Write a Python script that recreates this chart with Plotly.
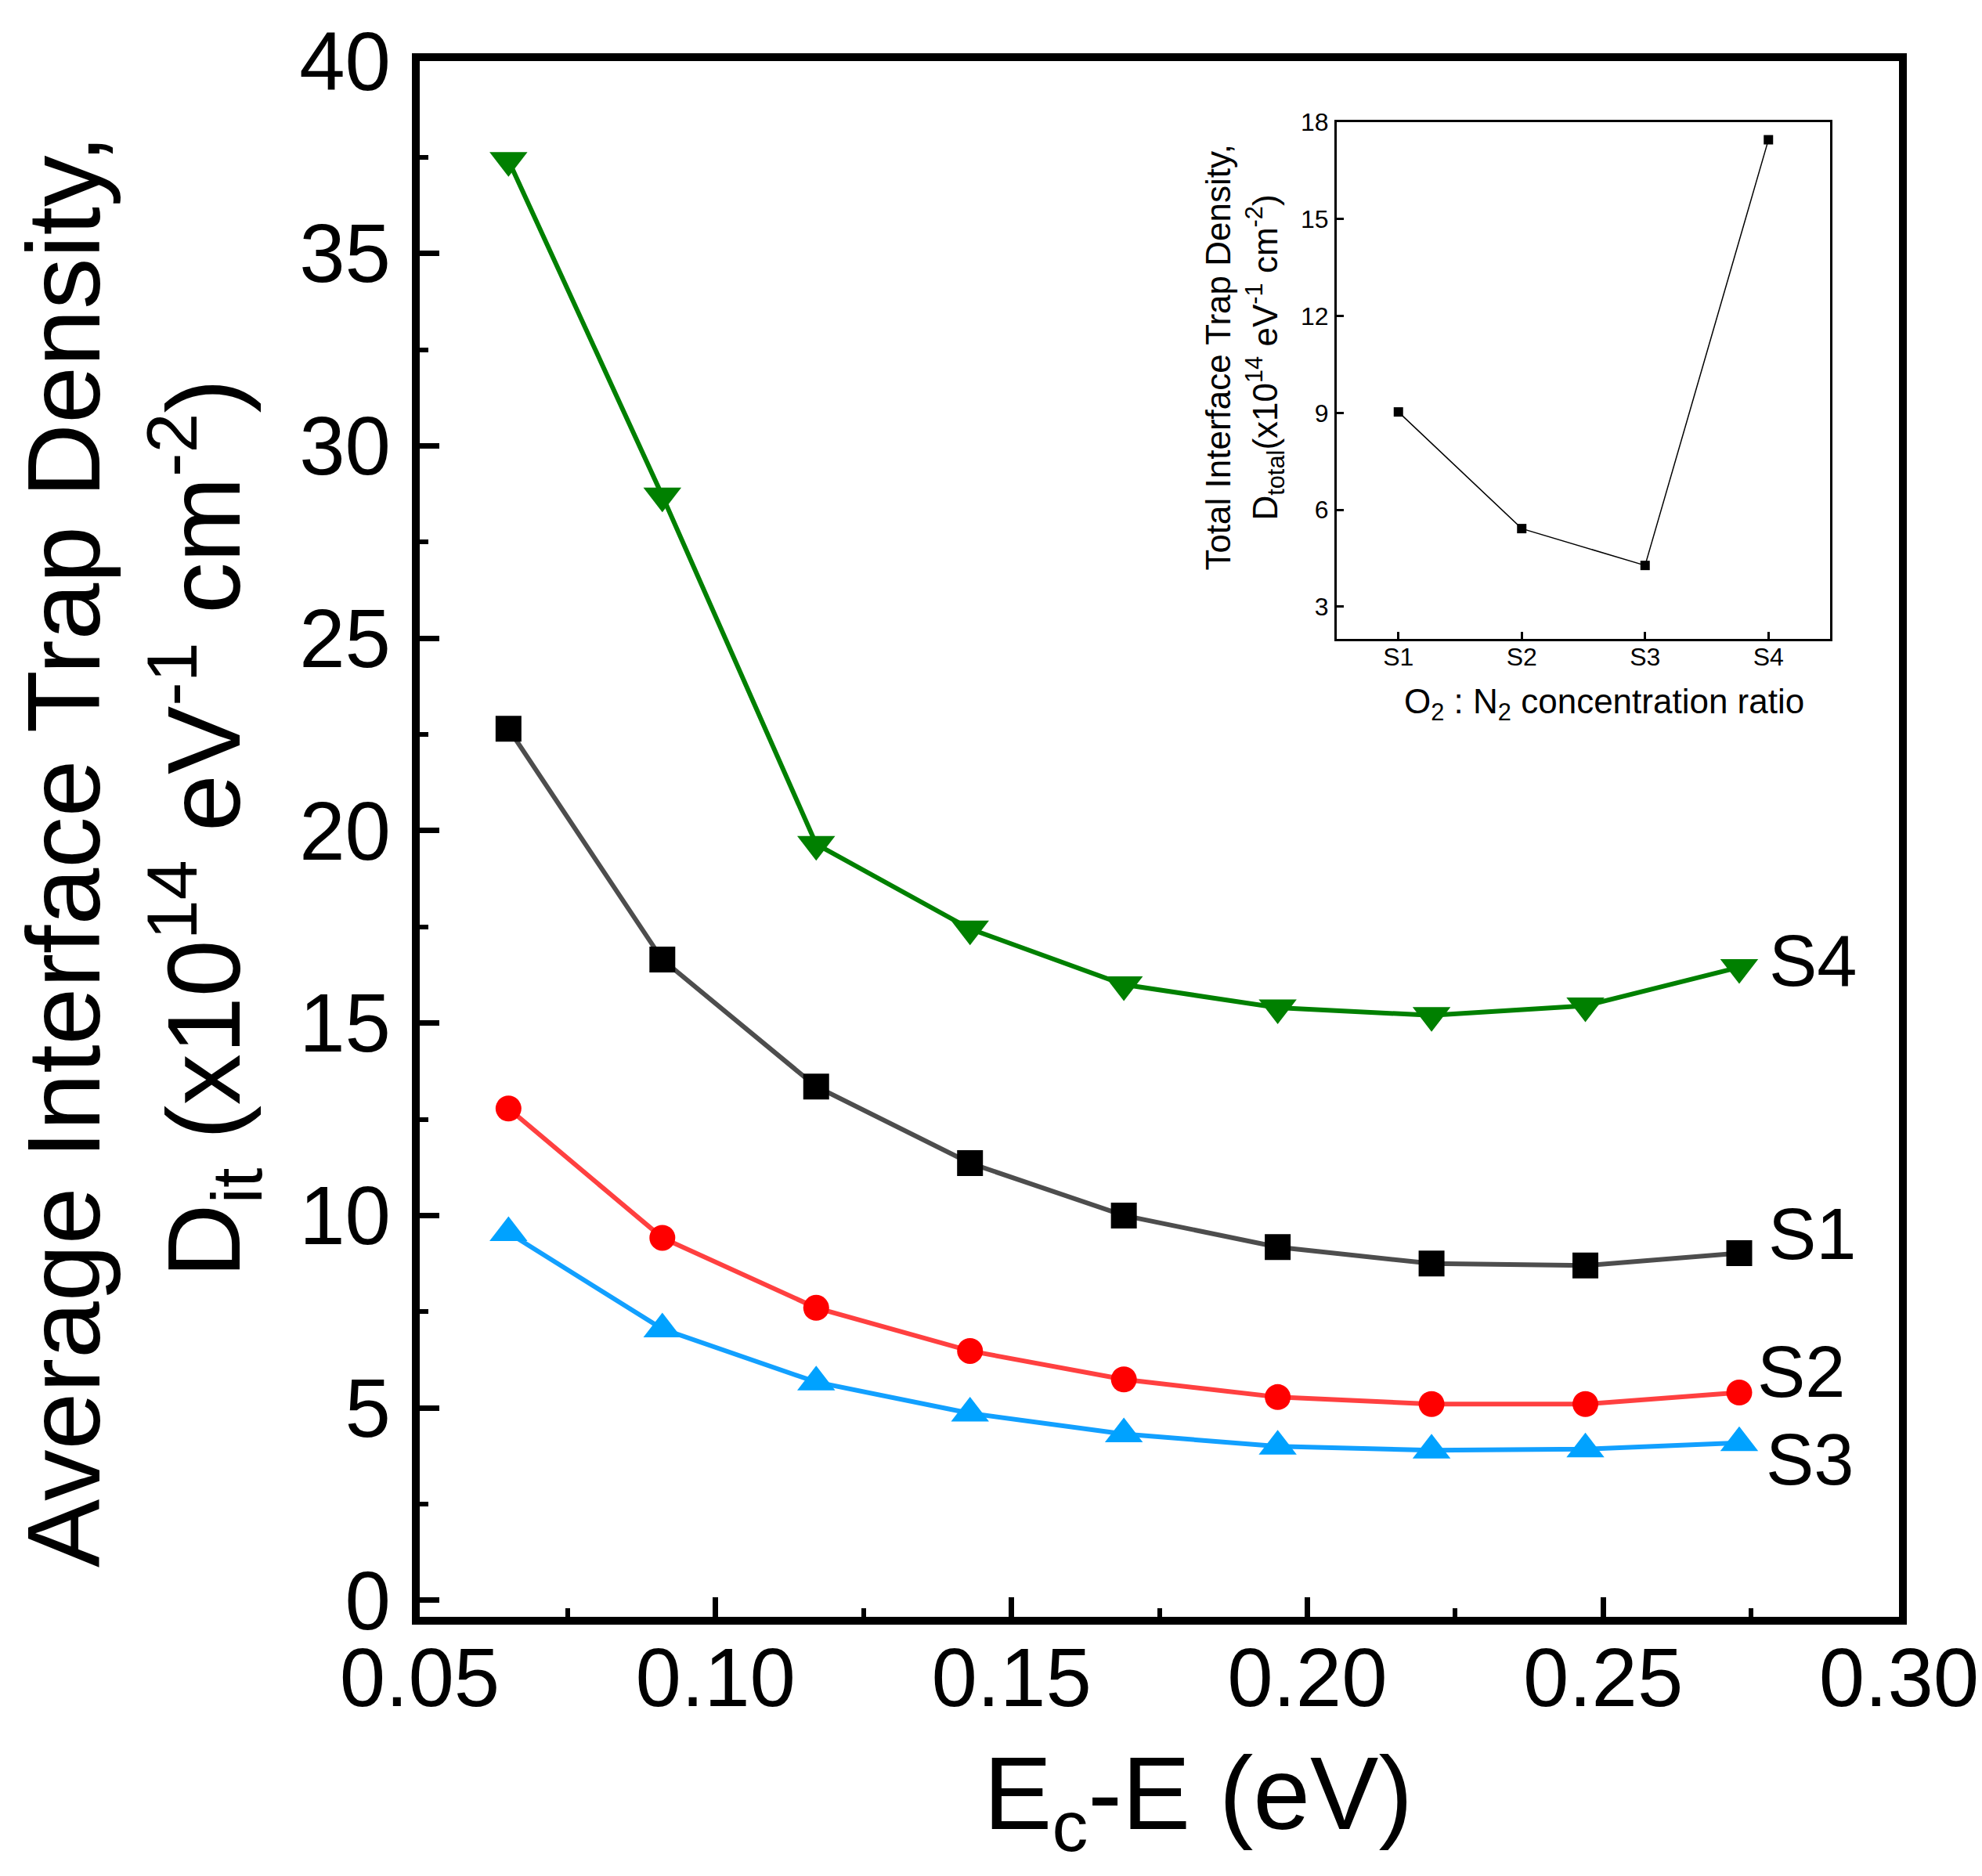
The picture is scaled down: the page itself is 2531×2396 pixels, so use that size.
import plotly.graph_objects as go

# main panel: average interface trap density vs Ec-E
energy = [0.065, 0.091, 0.117, 0.143, 0.169, 0.195, 0.221, 0.247, 0.273]
dit_s1 = [22.65, 16.65, 13.35, 11.36, 10.0, 9.18, 8.75, 8.70, 9.02]
dit_s2 = [12.78, 9.42, 7.60, 6.48, 5.74, 5.28, 5.10, 5.10, 5.40]
dit_s3 = [9.55, 7.05, 5.67, 4.86, 4.32, 4.00, 3.90, 3.93, 4.09]
dit_s4 = [37.42, 28.70, 19.65, 17.45, 16.00, 15.40, 15.20, 15.45, 16.45]

# inset: total interface trap density per sample
samples = ["S1", "S2", "S3", "S4"]
sample_pos = [1, 2, 3, 4]
d_total = [9.03, 5.42, 4.28, 17.45]

FONT = "Liberation Sans, Arial, sans-serif"

W, H = 2531, 2396
L, R, T, B = 528, 2417, 68, 2057


def px_x(p):
    return (p - L) / (R - L)


def px_y(p):
    return (B - p) / (B - T)


series = [
    ("S1", dit_s1, "#4D4D4D", "#000000", "square", 33),
    ("S2", dit_s2, "#FF4040", "#FF0000", "circle", 33),
    ("S3", dit_s3, "#12A0FF", "#00A2FF", "triangle-up", 42),
    ("S4", dit_s4, "#008000", "#008000", "triangle-down", 42),
]

fig = go.Figure()
for name, vals, lc, mc, sym, size in series:
    fig.add_trace(go.Scatter(
        x=energy, y=vals, name=name, mode="lines+markers",
        line=dict(color=lc, width=6),
        marker=dict(color=mc, symbol=sym, size=size, line=dict(width=0)),
        xaxis="x", yaxis="y",
    ))

fig.add_trace(go.Scatter(
    x=sample_pos, y=d_total, mode="lines+markers",
    line=dict(color="black", width=1.5),
    marker=dict(color="black", symbol="square", size=12),
    xaxis="x2", yaxis="y2",
))

axis_main = dict(
    showline=True, linewidth=10, linecolor="black", mirror=True,
    ticks="inside", ticklen=25, tickwidth=7, tickcolor="black",
    showgrid=False, zeroline=False,
    tickfont=dict(family=FONT, size=105, color="black"),
)
axis_inset = dict(
    showline=True, linewidth=3, linecolor="black", mirror=True,
    ticks="inside", ticklen=9, tickwidth=2.5, tickcolor="black",
    showgrid=False, zeroline=False,
    tickfont=dict(family=FONT, size=32, color="black"),
)

fig.update_layout(
    width=W, height=H,
    margin=dict(l=L, r=W - R, t=T, b=H - B),
    paper_bgcolor="white", plot_bgcolor="white",
    showlegend=False,
    xaxis=dict(axis_main, range=[0.05, 0.30], dtick=0.05, tick0=0.05,
               tickformat=".2f", ticklabelstandoff=-22,
               minor=dict(ticks="inside", dtick=0.025, ticklen=11,
                          tickwidth=6, tickcolor="black")),
    yaxis=dict(axis_main, range=[-0.43, 40], dtick=5, tick0=0,
               ticklabelstandoff=6,
               minor=dict(ticks="inside", dtick=2.5, ticklen=11,
                          tickwidth=6, tickcolor="black")),
    xaxis2=dict(axis_inset, domain=[px_x(1699), px_x(2329)], anchor="y2",
                range=[0.5, 4.5], tickvals=sample_pos, ticktext=samples,
                ticklabelstandoff=-8),
    yaxis2=dict(axis_inset, domain=[px_y(807), px_y(146)], anchor="x2",
                range=[2, 18], tickvals=[3, 6, 9, 12, 15, 18],
                ticklabelstandoff=1),
)

big = dict(family=FONT, size=131, color="black")
small = dict(family=FONT, size=44, color="black")
ann = [
    dict(text="Average Interface Trap Density,", x=px_x(74), y=px_y(1078),
         textangle=-90, font=big),
    dict(text="D<sub>it</sub> (x10<sup>14</sup> eV<sup>-1</sup> cm<sup>-2</sup>)",
         x=px_x(252), y=px_y(1049), textangle=-90, font=big),
    dict(text="E<sub>c</sub>-E (eV)", x=px_x(1522), y=px_y(2292), font=big),
    dict(text="O<sub>2</sub> : N<sub>2</sub> concentration ratio",
         x=px_x(2040), y=px_y(890), font=small),
    dict(text="Total Interface Trap Density,", x=px_x(1548), y=px_y(447),
         textangle=-90, font=small),
    dict(text="D<sub>total</sub>(x10<sup>14</sup> eV<sup>-1</sup> cm<sup>-2</sup>)",
         x=px_x(1608), y=px_y(447), textangle=-90, font=small),
]
for a in ann:
    fig.add_annotation(xref="paper", yref="paper", showarrow=False,
                       xanchor="center", yanchor="middle", **a)

# series labels at the right end of each curve
label_pos = [("S4", 0.2778, 16.63), ("S1", 0.2776, 9.51),
             ("S2", 0.2758, 5.93), ("S3", 0.2773, 3.66)]
for txt, lx, ly in label_pos:
    fig.add_annotation(x=lx, y=ly, xref="x", yref="y", text=txt,
                       showarrow=False, xanchor="left", yanchor="middle",
                       font=dict(family=FONT, size=92, color="black"))

fig.write_html("out.html")
